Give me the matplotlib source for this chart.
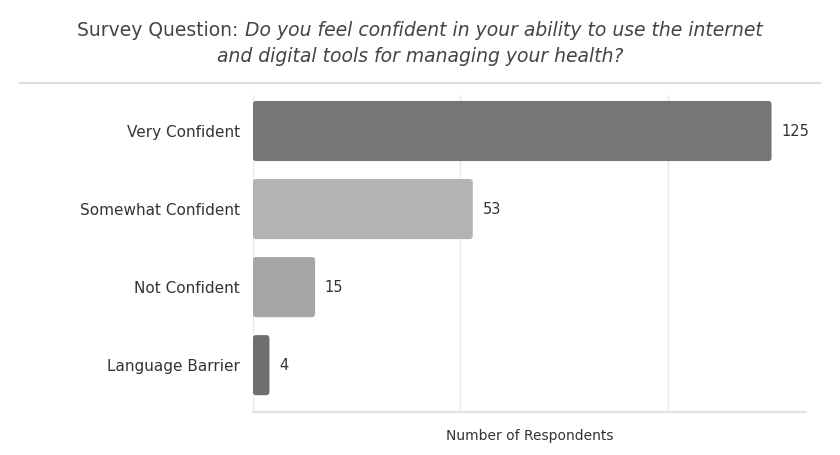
import matplotlib.pyplot as plt
from matplotlib.patches import FancyBboxPatch
from matplotlib.lines import Line2D

categories = ["Very Confident", "Somewhat Confident", "Not Confident", "Language Barrier"]
counts = [125, 53, 15, 4]
bar_colors = ["#767676", "#b3b3b3", "#a6a6a6", "#6f6f6f"]

plt.rcParams['font.family'] = ['DejaVu Sans']

fig = plt.figure(figsize=(8.4, 4.55), dpi=100)
ax = fig.add_axes([0.301, 0.0945, 0.659, 0.6965])

ypos = list(range(len(categories)))
bars = ax.barh(ypos, counts, height=0.77, color=bar_colors)

# swap plain rectangles for rounded ones
for rect, col in zip(bars, bar_colors):
    rect.set_visible(False)
    x, y = rect.get_xy()
    w, h = rect.get_width(), rect.get_height()
    rb = FancyBboxPatch((x, y), w, h, boxstyle="round,pad=0,rounding_size=0.8",
                        mutation_aspect=0.055, facecolor=col, edgecolor='none', zorder=3)
    ax.add_patch(rb)

for y, v in zip(ypos, counts):
    ax.text(v + 2.3, y, str(v), va='center', ha='left', fontsize=10.5, color='#333333')

ax.set_xlim(0, 133.4)
ax.set_ylim(3.6, -0.46)
ax.set_yticks(ypos)
ax.set_yticklabels(categories, fontsize=11, color='#333333')
ax.tick_params(axis='y', length=0, pad=9.5)
ax.set_xticks([0, 50, 100])
ax.tick_params(axis='x', length=0, labelbottom=False)
ax.grid(axis='x', color='#e8e8e8', linewidth=1, zorder=0)
ax.set_axisbelow(True)
for s in ['top', 'right', 'left']:
    ax.spines[s].set_visible(False)
ax.spines['bottom'].set_color('#e2e2e2')
ax.spines['bottom'].set_linewidth(1.5)

ax.set_xlabel("Number of Respondents", fontsize=10, color='#333333', labelpad=12)

# title: normal prefix + italic question, centred as one line
fig.canvas.draw()
r = fig.canvas.get_renderer()
t1 = fig.text(0, 1 - 30 / 455, "Survey Question: ", fontsize=13.5, color='#444444', va='center')
t2 = fig.text(0, 1 - 30 / 455, "Do you feel confident in your ability to use the internet",
              fontsize=13.5, color='#444444', style='italic', va='center')
w1 = t1.get_window_extent(r).width / 840
w2 = t2.get_window_extent(r).width / 840
x0 = 0.5 - (w1 + w2) / 2
t1.set_x(x0)
t2.set_x(x0 + w1)
fig.text(0.5, 1 - 57 / 455, "and digital tools for managing your health?",
         fontsize=13.5, color='#444444', style='italic', ha='center', va='center')

fig.add_artist(Line2D([20 / 840, 820 / 840], [1 - 83 / 455, 1 - 83 / 455],
                      color='#dddddd', linewidth=1.5, transform=fig.transFigure))

fig.savefig("out.png", dpi=100)
